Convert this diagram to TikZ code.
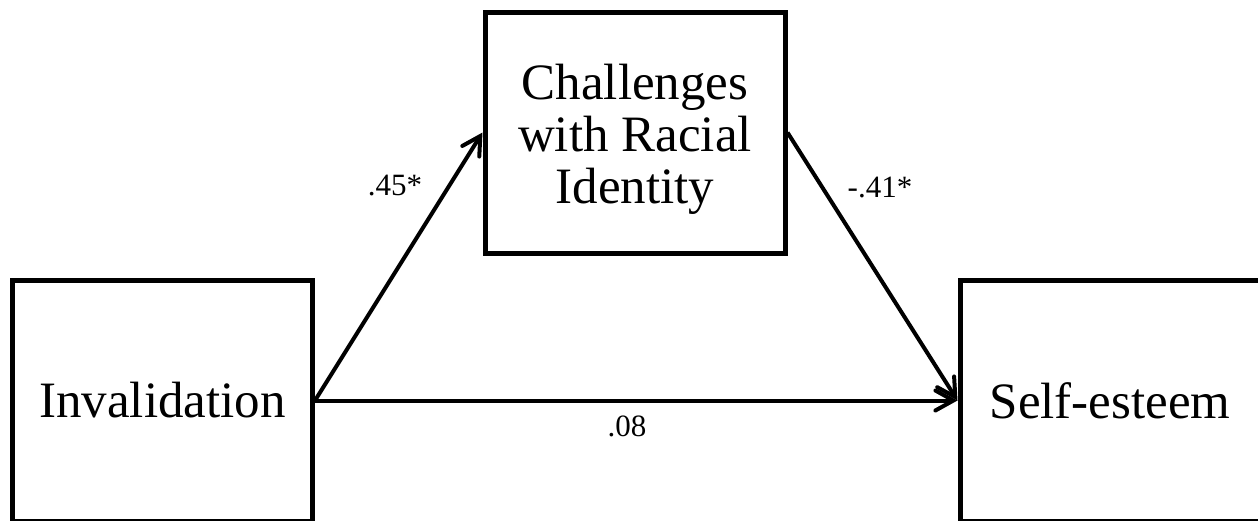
\documentclass[tikz,border=0pt]{standalone}
\usepackage{fontspec}
\setmainfont{Liberation Serif}
\usetikzlibrary{arrows.meta}

\begin{document}
\begin{tikzpicture}[x=.5pt,y=-.5pt,
    var/.style={draw,line width=2.5pt,minimum width=150pt,minimum height=120.5pt,align=center,inner sep=0pt,font=\fontsize{25.5}{25.8}\selectfont},
    coef/.style={inner sep=0pt,font=\fontsize{15.5}{18}\selectfont},
    link/.style={-{Straight Barb[length=9pt,width=10pt,line cap=round]},line width=2pt}]
    \useasboundingbox (0,0) rectangle (1258,520);
    \node[var] (inv) at (162.5,400.5) {Invalidation};
    \node[var] (ch) at (635,132.5) {\rule{0pt}{24.4pt}Challenges\\with Racial\\Identity};
    \node[var] (se) at (1110,400.5) {Self-esteem};
    \foreach \a/\b in {inv/ch,ch/se,inv/se}{\draw[link] (\a.east)--(\b.west);}
    \node[coef] (ca) at (395,186) {.45*};
    \node[coef] (cb) at (880,187) {-.41*};
    \node[coef] (cc) at (627,426) {.08};
  \end{tikzpicture}
\end{document}
